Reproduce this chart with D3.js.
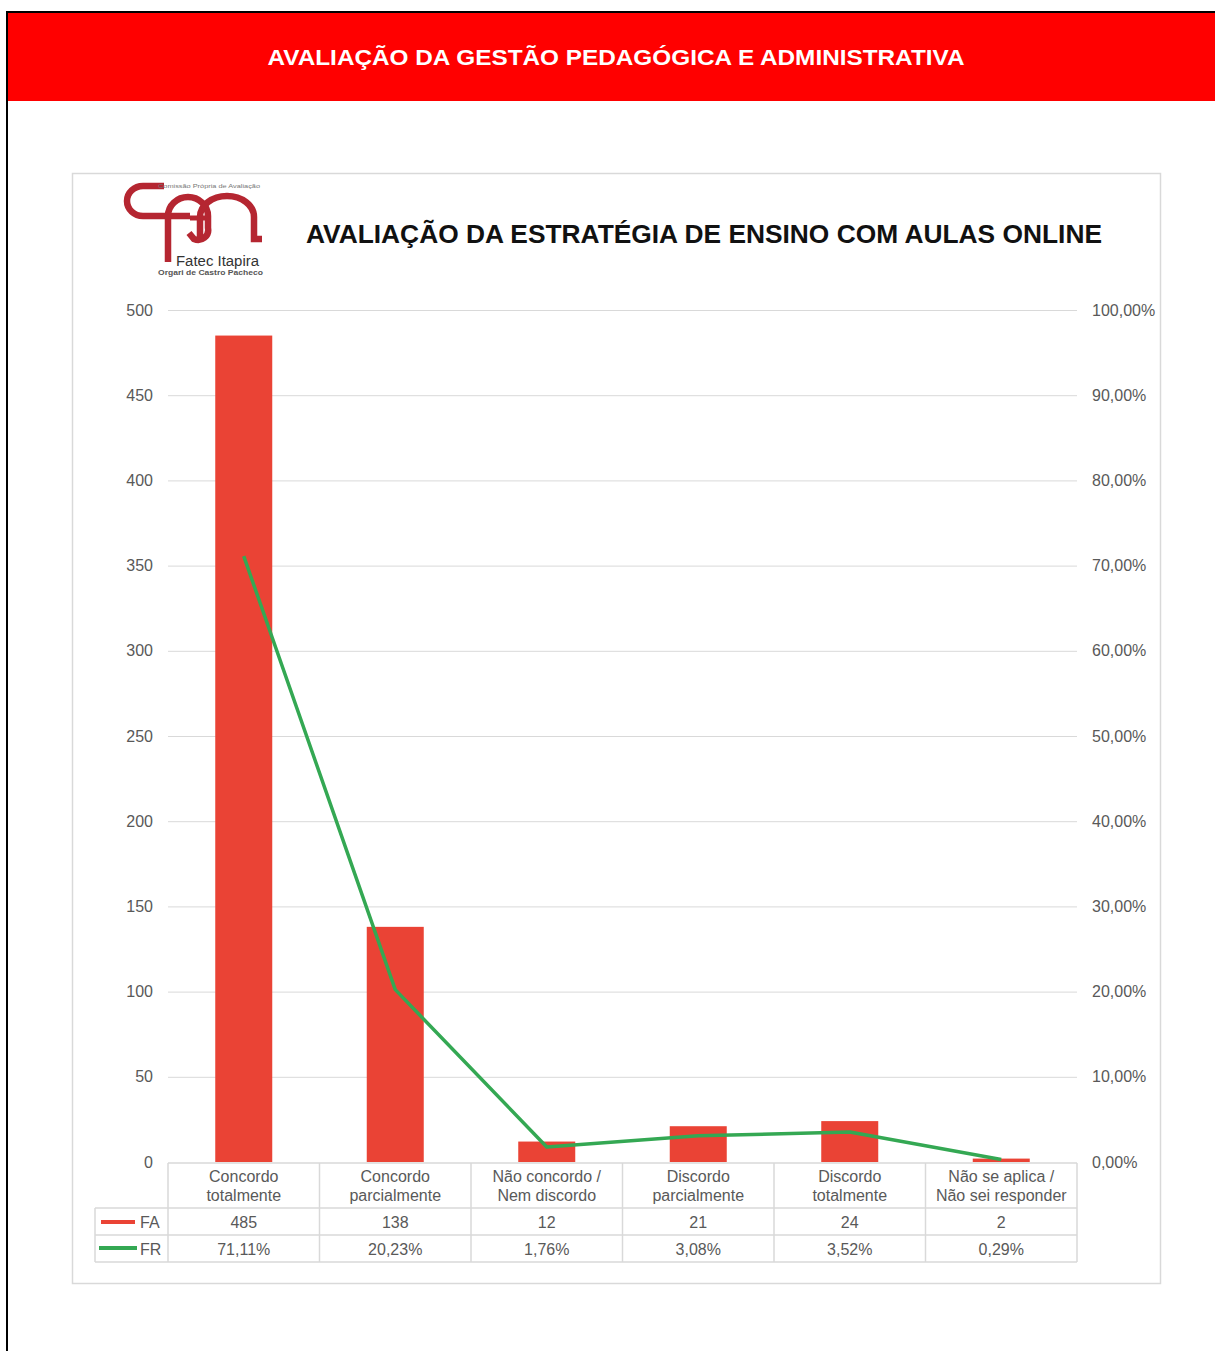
<!DOCTYPE html>
<html>
<head>
<meta charset="utf-8">
<script src="https://cdn.jsdelivr.net/npm/d3@7"></script>
<style>
  body { margin: 0; background: #fff; }
  svg { display: block; }
  text { font-family: "Liberation Sans", Arial, sans-serif; }
</style>
</head>
<body>
<svg id="chart" width="1215" height="1351"></svg>
<script>
// data
var categories = [
  ["Concordo", "totalmente"],
  ["Concordo", "parcialmente"],
  ["Não concordo /", "Nem discordo"],
  ["Discordo", "parcialmente"],
  ["Discordo", "totalmente"],
  ["Não se aplica /", "Não sei responder"]
];
var faValues = [485, 138, 12, 21, 24, 2];
var frValues = [0.7111, 0.2023, 0.0176, 0.0308, 0.0352, 0.0029];
var leftTicks = [0, 50, 100, 150, 200, 250, 300, 350, 400, 450, 500];
var rightTicks = [0, 0.1, 0.2, 0.3, 0.4, 0.5, 0.6, 0.7, 0.8, 0.9, 1.0];

var barColor = "#ea4335", lineColor = "#34a853", gridColor = "#d9d9d9", txtColor = "#595959";

var svg = d3.select("#chart");

// page frame + header band
svg.append("rect").attr("x", 6).attr("y", 11).attr("width", 1215).attr("height", 2).attr("fill", "#000");
svg.append("rect").attr("x", 6).attr("y", 11).attr("width", 2).attr("height", 1340).attr("fill", "#000");
svg.append("rect").attr("x", 8).attr("y", 13).attr("width", 1207).attr("height", 88).attr("fill", "#ff0000");
svg.append("text")
  .attr("x", 616).attr("y", 65)
  .attr("text-anchor", "middle")
  .attr("font-size", 22).attr("font-weight", "bold").attr("fill", "#fff")
  .attr("textLength", 697).attr("lengthAdjust", "spacingAndGlyphs")
  .text("AVALIAÇÃO DA GESTÃO PEDAGÓGICA E ADMINISTRATIVA");

// chart box
svg.append("rect").attr("x", 72.5).attr("y", 173.5).attr("width", 1088).attr("height", 1110)
  .attr("fill", "#fff").attr("stroke", "#d9d9d9").attr("stroke-width", 1.5);

// logo (rough drawing of the CPA mark)
var logo = svg.append("g").attr("fill", "none").attr("stroke", "#b52631").attr("stroke-width", 6.5);
logo.append("path").attr("d", "M164,186 L143,186 A16,15 0 0 0 143,216 L190,216");
logo.append("path").attr("d", "M168,262 L168,216 A20,19 0 0 1 208,216 L208,228 A10,10 0 0 1 194,239 L189,233");
logo.append("path").attr("d", "M200,239 L200,217 A27,21 0 0 1 254,217 L254,239 L262,239");
logo.append("path").attr("d", "M190,218 L206,218").attr("stroke-width", 5);
svg.append("text").attr("x", 158).attr("y", 188).attr("font-size", 5.5).attr("fill", "#777")
  .attr("textLength", 102).attr("lengthAdjust", "spacingAndGlyphs").text("Comissão Própria de Avaliação");
svg.append("text").attr("x", 176).attr("y", 266).attr("font-size", 14).attr("fill", "#333")
  .attr("textLength", 83).attr("lengthAdjust", "spacingAndGlyphs").text("Fatec Itapira");
svg.append("text").attr("x", 158).attr("y", 275).attr("font-size", 7).attr("fill", "#555").attr("font-weight", "bold")
  .attr("textLength", 105).attr("lengthAdjust", "spacingAndGlyphs").text("Orgari de Castro Pacheco");

// chart title
svg.append("text")
  .attr("x", 306).attr("y", 243)
  .attr("font-size", 26).attr("font-weight", "bold").attr("fill", "#111")
  .attr("textLength", 796).attr("lengthAdjust", "spacingAndGlyphs")
  .text("AVALIAÇÃO DA ESTRATÉGIA DE ENSINO COM AULAS ONLINE");

// scales
var x = d3.scaleBand().domain(d3.range(categories.length)).range([168, 1077]).paddingInner(0).paddingOuter(0);
var yL = d3.scaleLinear().domain([0, 500]).range([1162, 310]);
var yR = d3.scaleLinear().domain([0, 1]).range([1162, 310]);

// gridlines
svg.append("g").selectAll("line").data(leftTicks.slice(1)).join("line")
  .attr("x1", 168).attr("x2", 1077)
  .attr("y1", function(d) { return yL(d) + 0.5; }).attr("y2", function(d) { return yL(d) + 0.5; })
  .attr("stroke", gridColor).attr("stroke-width", 1);

// left axis
var axL = svg.append("g").attr("transform", "translate(153,0)")
  .call(d3.axisLeft(yL).tickValues(leftTicks).tickSize(0).tickPadding(0));
axL.select(".domain").remove();
axL.selectAll("text").attr("font-size", 16).attr("fill", txtColor).attr("font-family", "Liberation Sans, Arial, sans-serif");

// right axis
var fmtPct = function(d) { return d3.format(".2f")(d * 100).replace(".", ",") + "%"; };
var axR = svg.append("g").attr("transform", "translate(1092,0)")
  .call(d3.axisRight(yR).tickValues(rightTicks).tickSize(0).tickPadding(0).tickFormat(fmtPct));
axR.select(".domain").remove();
axR.selectAll("text").attr("font-size", 16).attr("fill", txtColor).attr("font-family", "Liberation Sans, Arial, sans-serif");

// bars
var barW = 57;
svg.append("g").selectAll("rect").data(faValues).join("rect")
  .attr("x", function(d, i) { return x(i) + x.bandwidth() / 2 - barW / 2; })
  .attr("y", function(d) { return yL(d); })
  .attr("width", barW)
  .attr("height", function(d) { return yL(0) - yL(d); })
  .attr("fill", barColor);

// FR line
var line = d3.line()
  .x(function(d, i) { return x(i) + x.bandwidth() / 2; })
  .y(function(d) { return yR(d); });
svg.append("path").datum(frValues)
  .attr("d", line).attr("fill", "none")
  .attr("stroke", lineColor).attr("stroke-width", 3.5).attr("stroke-linejoin", "round");

// data table
var rowTop = 1163, rowH1 = 1208, rowH2 = 1235, rowBot = 1262;
var tbl = svg.append("g").attr("stroke", gridColor).attr("stroke-width", 1.5);
tbl.append("line").attr("x1", 168).attr("x2", 1077).attr("y1", rowTop).attr("y2", rowTop);
[rowH1, rowH2, rowBot].forEach(function(yy) {
  tbl.append("line").attr("x1", 95).attr("x2", 1077).attr("y1", yy).attr("y2", yy);
});
tbl.append("line").attr("x1", 95).attr("x2", 95).attr("y1", rowH1).attr("y2", rowBot);
d3.range(categories.length + 1).forEach(function(i) {
  var xx = i < categories.length ? x(i) : x.range()[1];
  tbl.append("line").attr("x1", xx).attr("x2", xx).attr("y1", rowTop).attr("y2", rowBot);
});

var cats = svg.append("g").selectAll("text").data(categories).join("text")
  .attr("x", function(d, i) { return x(i) + x.bandwidth() / 2; })
  .attr("text-anchor", "middle").attr("font-size", 16).attr("fill", txtColor);
cats.append("tspan").attr("x", function(d, i) { return x(i) + x.bandwidth() / 2; }).attr("y", 1182).text(function(d) { return d[0]; });
cats.append("tspan").attr("x", function(d, i) { return x(i) + x.bandwidth() / 2; }).attr("y", 1201).text(function(d) { return d[1]; });

svg.append("g").selectAll("text").data(faValues).join("text")
  .attr("x", function(d, i) { return x(i) + x.bandwidth() / 2; }).attr("y", 1228)
  .attr("text-anchor", "middle").attr("font-size", 16).attr("fill", txtColor)
  .text(function(d) { return d; });
svg.append("g").selectAll("text").data(frValues).join("text")
  .attr("x", function(d, i) { return x(i) + x.bandwidth() / 2; }).attr("y", 1255)
  .attr("text-anchor", "middle").attr("font-size", 16).attr("fill", txtColor)
  .text(function(d) { return fmtPct(d); });

// legend keys in table
svg.append("line").attr("x1", 101).attr("x2", 135).attr("y1", 1222).attr("y2", 1222).attr("stroke", barColor).attr("stroke-width", 4);
svg.append("text").attr("x", 140).attr("y", 1228).attr("font-size", 16).attr("fill", txtColor).text("FA");
svg.append("line").attr("x1", 99).attr("x2", 137).attr("y1", 1248).attr("y2", 1248).attr("stroke", lineColor).attr("stroke-width", 4);
svg.append("text").attr("x", 140).attr("y", 1255).attr("font-size", 16).attr("fill", txtColor).text("FR");
</script>
</body>
</html>
